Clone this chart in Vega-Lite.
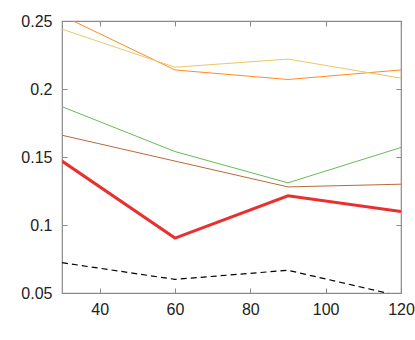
{
  "$schema": "https://vega.github.io/schema/vega-lite/v6.json",
  "width": 339,
  "height": 272,
  "autosize": {"type": "none"},
  "padding": {"left": 62, "top": 21, "right": 14, "bottom": 47},
  "config": {
    "view": {"stroke": "#8a8a8a", "strokeWidth": 1.2},
    "axis": {
      "domain": false,
      "grid": false,
      "tickColor": "#8a8a8a",
      "tickSize": -5,
      "tickWidth": 1,
      "labelFlush": false,
      "labelFont": "Liberation Sans",
      "labelFontSize": 16,
      "labelColor": "#222222",
      "title": null
    }
  },
  "data": {
    "values": [
      {"x": 30, "y": 0.254, "s": "orange"},
      {"x": 60, "y": 0.214, "s": "orange"},
      {"x": 90, "y": 0.207, "s": "orange"},
      {"x": 120, "y": 0.214, "s": "orange"},
      {"x": 30, "y": 0.244, "s": "yellow"},
      {"x": 60, "y": 0.216, "s": "yellow"},
      {"x": 90, "y": 0.222, "s": "yellow"},
      {"x": 120, "y": 0.208, "s": "yellow"},
      {"x": 30, "y": 0.187, "s": "green"},
      {"x": 60, "y": 0.154, "s": "green"},
      {"x": 90, "y": 0.131, "s": "green"},
      {"x": 120, "y": 0.157, "s": "green"},
      {"x": 30, "y": 0.166, "s": "brown"},
      {"x": 60, "y": 0.147, "s": "brown"},
      {"x": 90, "y": 0.128, "s": "brown"},
      {"x": 120, "y": 0.130, "s": "brown"},
      {"x": 30, "y": 0.147, "s": "red"},
      {"x": 60, "y": 0.0904, "s": "red"},
      {"x": 90, "y": 0.1215, "s": "red"},
      {"x": 120, "y": 0.110, "s": "red"},
      {"x": 30, "y": 0.0723, "s": "black"},
      {"x": 60, "y": 0.060, "s": "black"},
      {"x": 90, "y": 0.0667, "s": "black"},
      {"x": 120, "y": 0.0476, "s": "black"}
    ]
  },
  "layer": [
    {
      "transform": [{"filter": "datum.s !== 'red' && datum.s !== 'black'"}],
      "mark": {"type": "line", "clip": true, "strokeWidth": 1},
      "encoding": {
        "x": {"field": "x", "type": "quantitative", "scale": {"domain": [30, 120], "nice": false},
              "axis": {"orient": "bottom", "values": [40, 60, 80, 100, 120], "labelPadding": 13}},
        "y": {"field": "y", "type": "quantitative", "scale": {"domain": [0.05, 0.25], "nice": false, "zero": false},
              "axis": {"orient": "left", "values": [0.05, 0.1, 0.15, 0.2, 0.25], "format": "~g", "labelPadding": 15}},
        "color": {"field": "s", "type": "nominal", "legend": null,
                  "scale": {"domain": ["orange", "yellow", "green", "brown"], "range": ["#ff8a1c", "#e6c866", "#66bb55", "#b86a3a"]}},
        "detail": {"field": "s"}
      }
    },
    {
      "transform": [{"filter": "datum.s === 'red'"}],
      "mark": {"type": "line", "clip": true, "strokeWidth": 3, "color": "#e8302f"},
      "encoding": {
        "x": {"field": "x", "type": "quantitative",
              "axis": {"orient": "top", "values": [40, 60, 80, 100, 120], "labels": false}},
        "y": {"field": "y", "type": "quantitative",
              "axis": {"orient": "right", "values": [0.05, 0.1, 0.15, 0.2, 0.25], "labels": false}}
      }
    },
    {
      "transform": [{"filter": "datum.s === 'black'"}],
      "mark": {"type": "line", "clip": true, "strokeWidth": 1.2, "color": "#000000", "strokeDash": [6, 4]},
      "encoding": {
        "x": {"field": "x", "type": "quantitative", "axis": null},
        "y": {"field": "y", "type": "quantitative", "axis": null}
      }
    }
  ]
}
